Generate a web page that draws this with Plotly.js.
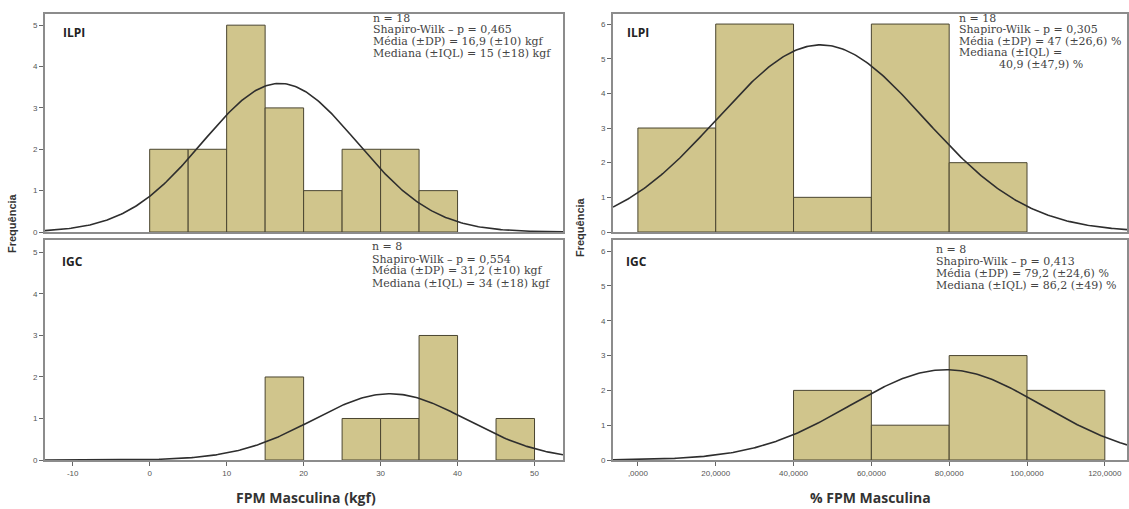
<!DOCTYPE html>
<html>
<head>
<meta charset="utf-8">
<script src="https://cdn.plot.ly/plotly-3.0.1.min.js"></script>
<style>html,body{margin:0;padding:0;background:#fff;}#chart{width:1129px;height:509px;}</style>
</head>
<body>
<div id="chart"></div>
<script>
// ---- Data ----
const binWidthKgf = 5;
const binStartsKgfILPI = [0, 5, 10, 15, 20, 25, 30, 35];
const countsKgfILPI = [2, 2, 5, 3, 1, 2, 2, 1];
const binStartsKgfIGC = [15, 25, 30, 35, 45];
const countsKgfIGC = [2, 1, 1, 3, 1];

const binWidthPct = 20;
const binStartsPctILPI = [0, 20, 40, 60, 80];
const countsPctILPI = [3, 6, 1, 6, 2];
const binStartsPctIGC = [40, 60, 80, 100];
const countsPctIGC = [2, 1, 3, 2];

// fitted normal parameters (n, mean, SD) shown in each panel
const statsKgfILPI = {n: 18, mean: 16.9, sd: 10};
const statsKgfIGC = {n: 8, mean: 31.2, sd: 10};
const statsPctILPI = {n: 18, mean: 47, sd: 26.6};
const statsPctIGC = {n: 8, mean: 79.2, sd: 24.6};

const kgfTickVals = [-10, 0, 10, 20, 30, 40, 50];
const kgfTickText = ['-10', '0', '10', '20', '30', '40', '50'];
const pctTickVals = [0, 20, 40, 60, 80, 100, 120];
const pctTickText = [',0000', '20,0000', '40,0000', '60,0000', '80,0000', '100,0000', '120,0000'];

const linesKgfILPI = ['n = 18', 'Shapiro-Wilk – p = 0,465', 'Média (±DP) = 16,9 (±10) kgf', 'Mediana (±IQL) = 15 (±18) kgf'];
const linesKgfIGC = ['n = 8', 'Shapiro-Wilk – p = 0,554', 'Média (±DP) = 31,2 (±10) kgf', 'Mediana (±IQL) = 34 (±18) kgf'];
const linesPctILPI = ['n = 18', 'Shapiro-Wilk – p = 0,305', 'Média (±DP) = 47 (±26,6) %', 'Mediana (±IQL) =', '40,9 (±47,9) %'];
const linesPctIGC = ['n = 8', 'Shapiro-Wilk – p = 0,413', 'Média (±DP) = 79,2 (±24,6) %', 'Mediana (±IQL) = 86,2 (±49) %'];

// ---- Styling ----
const W = 1129, H = 509;
const barColor = '#d0c58c';
const barLine = '#4a4530';
const frameColor = '#8c8c8c';
const kgfRange = [-13.6, 53.7];
const pctRange = [-6.4, 125.7];

function barTrace(starts, counts, bw, xa, ya) {
  return {
    type: 'bar', x: starts.map(s => s + bw / 2), y: counts, width: bw,
    marker: {color: barColor, line: {color: barLine, width: 1}},
    xaxis: xa, yaxis: ya, hoverinfo: 'x+y', showlegend: false
  };
}
function curveTrace(st, bw, range, xa, ya) {
  const xs = [], ys = [];
  const N = 300;
  for (let i = 0; i <= N; i++) {
    const x = range[0] + (range[1] - range[0]) * i / N;
    const z = (x - st.mean) / st.sd;
    xs.push(x);
    ys.push(st.n * bw * Math.exp(-0.5 * z * z) / (st.sd * Math.sqrt(2 * Math.PI)));
  }
  return {type: 'scatter', mode: 'lines', x: xs, y: ys, line: {color: '#2e2e2e', width: 1.6},
    xaxis: xa, yaxis: ya, hoverinfo: 'skip', showlegend: false};
}

const traces = [
  barTrace(binStartsKgfILPI, countsKgfILPI, binWidthKgf, 'x', 'y'),
  curveTrace(statsKgfILPI, binWidthKgf, kgfRange, 'x', 'y'),
  barTrace(binStartsKgfIGC, countsKgfIGC, binWidthKgf, 'x2', 'y2'),
  curveTrace(statsKgfIGC, binWidthKgf, kgfRange, 'x2', 'y2'),
  barTrace(binStartsPctILPI, countsPctILPI, binWidthPct, 'x3', 'y3'),
  curveTrace(statsPctILPI, binWidthPct, pctRange, 'x3', 'y3'),
  barTrace(binStartsPctIGC, countsPctIGC, binWidthPct, 'x4', 'y4'),
  curveTrace(statsPctIGC, binWidthPct, pctRange, 'x4', 'y4')
];

const px = v => v / W;
const py = v => (H - v) / H;
const tickFont = {family: 'Liberation Sans, Arial, sans-serif', size: 8, color: '#555'};

function xAxis(domain, range, anchor, vals, text, show) {
  return {domain: domain, range: range, anchor: anchor, showgrid: false, zeroline: false,
    showline: true, mirror: true, linecolor: frameColor, linewidth: 2,
    ticks: show ? 'outside' : '', ticklen: 4, tickcolor: '#666', tickwidth: 1,
    tickvals: vals, ticktext: text, showticklabels: show, tickfont: tickFont, fixedrange: true};
}
function yAxis(domain, range, anchor, maxTick) {
  const vals = [];
  for (let i = 0; i <= maxTick; i++) vals.push(i);
  return {domain: domain, range: range, anchor: anchor, showgrid: false, zeroline: false,
    showline: true, mirror: true, linecolor: frameColor, linewidth: 2,
    ticks: 'outside', ticklen: 4, tickcolor: '#666', tickwidth: 1,
    tickvals: vals, tickfont: tickFont, fixedrange: true};
}

const lDom = [px(45), px(563)];
const rDom = [px(613), px(1127)];
const topDom = [py(232), py(14)];
const botDom = [py(460), py(240)];

const statFont = {family: 'DejaVu Serif, serif', size: 11, color: '#444'};
const panelFont = {family: 'Open Sans, Arial, sans-serif', size: 12, color: '#222', weight: 'bold'};
const xTitleFont = {family: 'Open Sans, Arial, sans-serif', size: 14, color: '#333', weight: 'bold'};
const yTitleFont = {family: 'Liberation Sans, Arial, sans-serif', size: 11, color: '#333', weight: 'bold'};

function note(text, x, y, font) {
  return {xref: 'paper', yref: 'paper', x: px(x), y: py(y), xanchor: 'left', yanchor: 'middle',
    align: 'left', showarrow: false, text: text, font: font};
}
function statBlock(lines, x, y0, step, indents) {
  return lines.map((t, i) => note(t, x + ((indents && indents[i]) || 0), y0 + i * step, statFont));
}

const annotations = [].concat(
  statBlock(linesKgfILPI, 371, 18, 11.7),
  statBlock(linesKgfIGC, 370, 247, 12),
  statBlock(linesPctILPI, 957, 18, 11.5, [0, 0, 0, 0, 40]),
  statBlock(linesPctIGC, 934, 249, 12),
  [
    note('ILPI', 61, 33, panelFont),
    note('IGC', 60, 262, panelFont),
    note('ILPI', 625, 33, panelFont),
    note('IGC', 624, 262, panelFont),
    {xref: 'paper', yref: 'paper', x: px(12), y: py(223), text: 'Frequência', showarrow: false,
      textangle: -90, font: yTitleFont, xanchor: 'center', yanchor: 'middle'},
    {xref: 'paper', yref: 'paper', x: px(580), y: py(227), text: 'Frequência', showarrow: false,
      textangle: -90, font: yTitleFont, xanchor: 'center', yanchor: 'middle'},
    {xref: 'paper', yref: 'paper', x: px(306), y: py(497), text: 'FPM Masculina (kgf)', showarrow: false,
      font: xTitleFont, xanchor: 'center', yanchor: 'middle'},
    {xref: 'paper', yref: 'paper', x: px(870), y: py(497), text: '% FPM Masculina', showarrow: false,
      font: xTitleFont, xanchor: 'center', yanchor: 'middle'}
  ]
);

const layout = {
  width: W, height: H, margin: {l: 0, r: 0, t: 0, b: 0},
  paper_bgcolor: '#fff', plot_bgcolor: '#fff', bargap: 0, barmode: 'overlay', showlegend: false,
  xaxis: xAxis(lDom, kgfRange, 'y', kgfTickVals, kgfTickText, false),
  yaxis: yAxis(topDom, [0, 5.27], 'x', 5),
  xaxis2: xAxis(lDom, kgfRange, 'y2', kgfTickVals, kgfTickText, true),
  yaxis2: yAxis(botDom, [0, 5.3], 'x2', 5),
  xaxis3: xAxis(rDom, pctRange, 'y3', pctTickVals, pctTickText, false),
  yaxis3: yAxis(topDom, [0, 6.29], 'x3', 6),
  xaxis4: xAxis(rDom, pctRange, 'y4', pctTickVals, pctTickText, true),
  yaxis4: yAxis(botDom, [0, 6.32], 'x4', 6),
  annotations: annotations
};

Plotly.newPlot('chart', traces, layout, {displayModeBar: false, staticPlot: true});
</script>
</body>
</html>
